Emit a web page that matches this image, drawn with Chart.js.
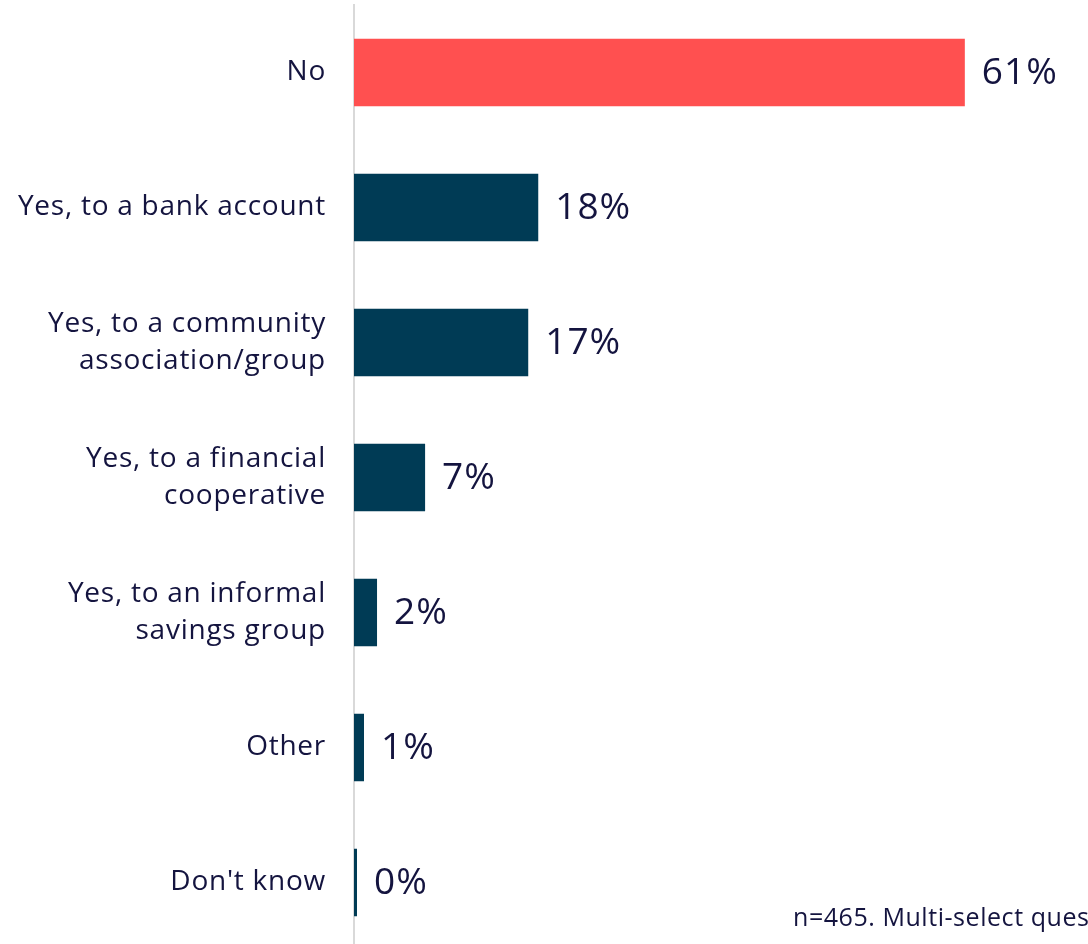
<!DOCTYPE html>
<html>
<head>
<meta charset="utf-8">
<script src="https://cdn.jsdelivr.net/npm/chart.js@4.4.1/dist/chart.umd.min.js"></script>
<style>
  html, body { margin: 0; padding: 0; background: #ffffff; overflow: hidden; width: 1088px; height: 944px; }
  #wrap { position: absolute; left: 0; top: 0; width: 1088px; height: 952px; }
  #note { position: absolute; left: 793px; top: 899px; font-family: "Open Sans", sans-serif; font-size: 25px; letter-spacing: 0.55px; color: #14143f; white-space: nowrap; }
</style>
</head>
<body>
<div id="wrap"><canvas id="c"></canvas></div>
<div id="note">n=465. Multi-select question</div>
<script>
const categories = [
  "No",
  "Yes, to a bank account",
  ["Yes, to a community", "association/group"],
  ["Yes, to a financial", "cooperative"],
  ["Yes, to an informal", "savings group"],
  "Other",
  "Don't know"
];
const values = [61.0, 18.4, 17.4, 7.1, 2.3, 1.0, 0.3];
const valueLabels = ["61%", "18%", "17%", "7%", "2%", "1%", "0%"];
const barColors = ["#FF5050", "#003B55", "#003B55", "#003B55", "#003B55", "#003B55", "#003B55"];

const textColor = "#14143f";

const spacingPlugin = {
  id: "spacing",
  beforeDraw(chart) {
    chart.ctx.letterSpacing = "0.75px";
  }
};

const valueLabelPlugin = {
  id: "valueLabels",
  afterDatasetsDraw(chart) {
    const ctx = chart.ctx;
    const meta = chart.getDatasetMeta(0);
    ctx.save();
    ctx.font = "37px 'Open Sans', sans-serif";
    ctx.letterSpacing = "1px";
    ctx.fillStyle = textColor;
    ctx.textAlign = "left";
    ctx.textBaseline = "middle";
    meta.data.forEach((bar, i) => {
      ctx.fillText(valueLabels[i], bar.x + 17, bar.y + 1);
    });
    ctx.restore();
  }
};

new Chart(document.getElementById("c"), {
  type: "bar",
  data: {
    labels: categories,
    datasets: [{
      data: values,
      backgroundColor: barColors,
      borderWidth: 0,
      categoryPercentage: 1.0,
      barPercentage: 0.5
    }]
  },
  options: {
    indexAxis: "y",
    responsive: true,
    maintainAspectRatio: false,
    animation: false,
    layout: { padding: { top: 5, right: 0, bottom: 2, left: 0 } },
    plugins: {
      legend: { display: false },
      tooltip: { enabled: false }
    },
    scales: {
      x: {
        display: false,
        min: 0,
        max: 73.3
      },
      y: {
        afterFit(scale) {
          scale.width = 354;
          scale.paddingTop = 0;
          scale.paddingBottom = 0;
        },
        grid: { display: false, drawTicks: false },
        border: { display: true, color: "#d9d9d9", width: 2 },
        ticks: {
          padding: 28,
          color: textColor,
          font: { family: "'Open Sans', sans-serif", size: 28, lineHeight: 1.29 }
        }
      }
    }
  },
  plugins: [spacingPlugin, valueLabelPlugin]
});
</script>
</body>
</html>
